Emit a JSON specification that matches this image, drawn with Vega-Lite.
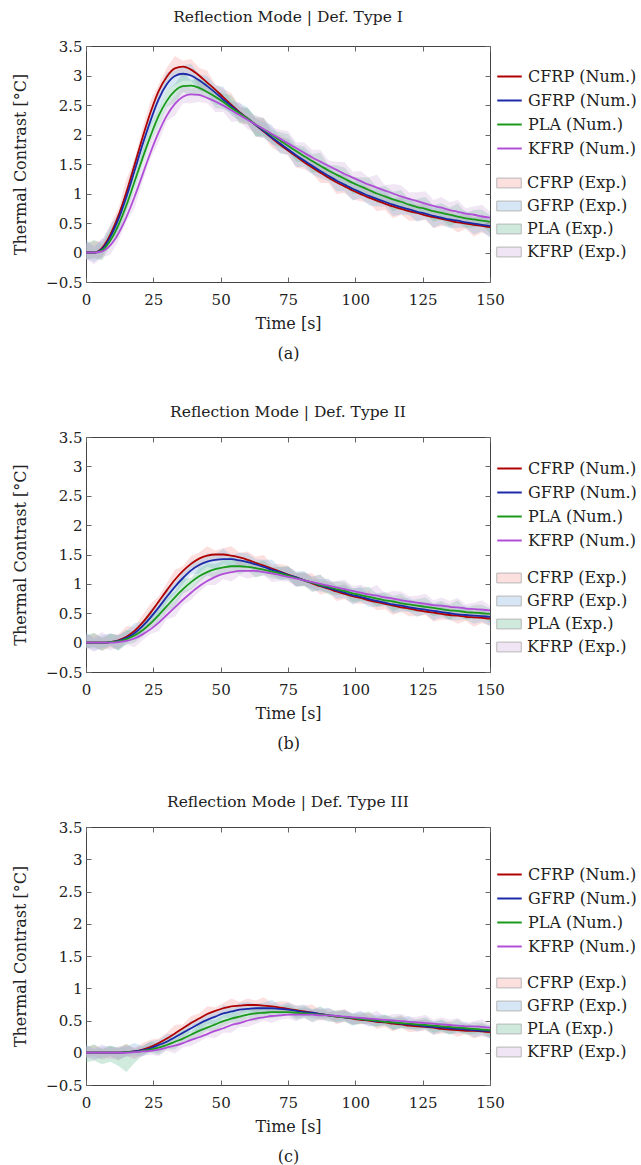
{
"$schema": "https://vega.github.io/schema/vega-lite/v6.json",
"padding": {"left": 12, "top": 9, "right": 0, "bottom": 0},
"background": "white",
"config": {
  "font": "DejaVu Serif",
  "view": {"stroke": "#444", "strokeWidth": 1},
  "axis": {"grid": false, "domain": false, "labelFontSize": 15, "titleFontSize": 16, "titleFontWeight": "normal", "labelColor": "#222", "titleColor": "#222", "tickColor": "#666", "labelFlush": false, "labelOverlap": false},
  "axisX": {"labelPadding": 15, "titlePadding": 8},
  "axisY": {"labelPadding": 9, "titlePadding": 17},
  "title": {"fontSize": 15.5, "fontWeight": "normal", "color": "#222"},
  "legend": {"labelFontSize": 16, "labelColor": "#222"}
},
"datasets": {"d": [
{"s":"I","m":"CFRP","t":0,"y":0,"lo":-0.12,"hi":0.14},
{"s":"I","m":"CFRP","t":3,"y":0,"lo":-0.09,"hi":0.2},
{"s":"I","m":"CFRP","t":6,"y":0.08,"lo":-0.1,"hi":0.18},
{"s":"I","m":"CFRP","t":9,"y":0.3,"lo":0.19,"hi":0.47},
{"s":"I","m":"CFRP","t":12,"y":0.62,"lo":0.42,"hi":0.74},
{"s":"I","m":"CFRP","t":15,"y":1.02,"lo":0.92,"hi":1.24},
{"s":"I","m":"CFRP","t":18,"y":1.48,"lo":1.32,"hi":1.57},
{"s":"I","m":"CFRP","t":21,"y":1.95,"lo":1.82,"hi":2.11},
{"s":"I","m":"CFRP","t":24,"y":2.38,"lo":2.3,"hi":2.57},
{"s":"I","m":"CFRP","t":27,"y":2.74,"lo":2.55,"hi":2.85},
{"s":"I","m":"CFRP","t":30,"y":2.98,"lo":2.86,"hi":3.13},
{"s":"I","m":"CFRP","t":33,"y":3.12,"lo":3.02,"hi":3.33},
{"s":"I","m":"CFRP","t":36,"y":3.15,"lo":2.98,"hi":3.25},
{"s":"I","m":"CFRP","t":39,"y":3.1,"lo":3.01,"hi":3.28},
{"s":"I","m":"CFRP","t":42,"y":3,"lo":2.8,"hi":3.13},
{"s":"I","m":"CFRP","t":45,"y":2.88,"lo":2.77,"hi":3.08},
{"s":"I","m":"CFRP","t":48,"y":2.76,"lo":2.61,"hi":2.85},
{"s":"I","m":"CFRP","t":51,"y":2.63,"lo":2.51,"hi":2.77},
{"s":"I","m":"CFRP","t":54,"y":2.5,"lo":2.41,"hi":2.7},
{"s":"I","m":"CFRP","t":57,"y":2.38,"lo":2.2,"hi":2.48},
{"s":"I","m":"CFRP","t":60,"y":2.27,"lo":2.16,"hi":2.44},
{"s":"I","m":"CFRP","t":63,"y":2.16,"lo":1.96,"hi":2.28},
{"s":"I","m":"CFRP","t":66,"y":2.05,"lo":1.95,"hi":2.27},
{"s":"I","m":"CFRP","t":69,"y":1.94,"lo":1.78,"hi":2.03},
{"s":"I","m":"CFRP","t":72,"y":1.83,"lo":1.7,"hi":1.99},
{"s":"I","m":"CFRP","t":75,"y":1.73,"lo":1.65,"hi":1.92},
{"s":"I","m":"CFRP","t":78,"y":1.63,"lo":1.44,"hi":1.74},
{"s":"I","m":"CFRP","t":81,"y":1.53,"lo":1.41,"hi":1.68},
{"s":"I","m":"CFRP","t":84,"y":1.44,"lo":1.34,"hi":1.65},
{"s":"I","m":"CFRP","t":87,"y":1.35,"lo":1.18,"hi":1.45},
{"s":"I","m":"CFRP","t":90,"y":1.27,"lo":1.18,"hi":1.45},
{"s":"I","m":"CFRP","t":93,"y":1.19,"lo":0.99,"hi":1.32},
{"s":"I","m":"CFRP","t":96,"y":1.12,"lo":1.01,"hi":1.32},
{"s":"I","m":"CFRP","t":99,"y":1.05,"lo":0.9,"hi":1.14},
{"s":"I","m":"CFRP","t":102,"y":0.99,"lo":0.87,"hi":1.13},
{"s":"I","m":"CFRP","t":105,"y":0.93,"lo":0.84,"hi":1.13},
{"s":"I","m":"CFRP","t":108,"y":0.88,"lo":0.7,"hi":0.98},
{"s":"I","m":"CFRP","t":111,"y":0.83,"lo":0.72,"hi":1},
{"s":"I","m":"CFRP","t":114,"y":0.78,"lo":0.58,"hi":0.9},
{"s":"I","m":"CFRP","t":117,"y":0.74,"lo":0.64,"hi":0.96},
{"s":"I","m":"CFRP","t":120,"y":0.7,"lo":0.54,"hi":0.79},
{"s":"I","m":"CFRP","t":123,"y":0.67,"lo":0.54,"hi":0.83},
{"s":"I","m":"CFRP","t":126,"y":0.63,"lo":0.55,"hi":0.82},
{"s":"I","m":"CFRP","t":129,"y":0.6,"lo":0.41,"hi":0.71},
{"s":"I","m":"CFRP","t":132,"y":0.57,"lo":0.45,"hi":0.72},
{"s":"I","m":"CFRP","t":135,"y":0.54,"lo":0.44,"hi":0.75},
{"s":"I","m":"CFRP","t":138,"y":0.51,"lo":0.34,"hi":0.61},
{"s":"I","m":"CFRP","t":141,"y":0.49,"lo":0.4,"hi":0.67},
{"s":"I","m":"CFRP","t":144,"y":0.47,"lo":0.27,"hi":0.6},
{"s":"I","m":"CFRP","t":147,"y":0.45,"lo":0.34,"hi":0.65},
{"s":"I","m":"CFRP","t":150,"y":0.43,"lo":0.28,"hi":0.52},
{"s":"I","m":"GFRP","t":0,"y":0,"lo":-0.1,"hi":0.22},
{"s":"I","m":"GFRP","t":3,"y":0,"lo":-0.16,"hi":0.09},
{"s":"I","m":"GFRP","t":6,"y":0.06,"lo":-0.07,"hi":0.22},
{"s":"I","m":"GFRP","t":9,"y":0.26,"lo":0.18,"hi":0.45},
{"s":"I","m":"GFRP","t":12,"y":0.56,"lo":0.37,"hi":0.67},
{"s":"I","m":"GFRP","t":15,"y":0.94,"lo":0.82,"hi":1.09},
{"s":"I","m":"GFRP","t":18,"y":1.38,"lo":1.28,"hi":1.59},
{"s":"I","m":"GFRP","t":21,"y":1.83,"lo":1.66,"hi":1.93},
{"s":"I","m":"GFRP","t":24,"y":2.24,"lo":2.15,"hi":2.42},
{"s":"I","m":"GFRP","t":27,"y":2.6,"lo":2.4,"hi":2.73},
{"s":"I","m":"GFRP","t":30,"y":2.85,"lo":2.74,"hi":3.05},
{"s":"I","m":"GFRP","t":33,"y":2.99,"lo":2.84,"hi":3.08},
{"s":"I","m":"GFRP","t":36,"y":3.03,"lo":2.91,"hi":3.17},
{"s":"I","m":"GFRP","t":39,"y":3,"lo":2.91,"hi":3.2},
{"s":"I","m":"GFRP","t":42,"y":2.92,"lo":2.74,"hi":3.02},
{"s":"I","m":"GFRP","t":45,"y":2.82,"lo":2.71,"hi":2.99},
{"s":"I","m":"GFRP","t":48,"y":2.71,"lo":2.51,"hi":2.83},
{"s":"I","m":"GFRP","t":51,"y":2.59,"lo":2.49,"hi":2.81},
{"s":"I","m":"GFRP","t":54,"y":2.48,"lo":2.32,"hi":2.57},
{"s":"I","m":"GFRP","t":57,"y":2.37,"lo":2.24,"hi":2.53},
{"s":"I","m":"GFRP","t":60,"y":2.27,"lo":2.19,"hi":2.46},
{"s":"I","m":"GFRP","t":63,"y":2.16,"lo":1.97,"hi":2.27},
{"s":"I","m":"GFRP","t":66,"y":2.06,"lo":1.94,"hi":2.21},
{"s":"I","m":"GFRP","t":69,"y":1.95,"lo":1.85,"hi":2.16},
{"s":"I","m":"GFRP","t":72,"y":1.85,"lo":1.68,"hi":1.95},
{"s":"I","m":"GFRP","t":75,"y":1.75,"lo":1.66,"hi":1.93},
{"s":"I","m":"GFRP","t":78,"y":1.65,"lo":1.45,"hi":1.78},
{"s":"I","m":"GFRP","t":81,"y":1.56,"lo":1.45,"hi":1.76},
{"s":"I","m":"GFRP","t":84,"y":1.47,"lo":1.32,"hi":1.56},
{"s":"I","m":"GFRP","t":87,"y":1.38,"lo":1.26,"hi":1.52},
{"s":"I","m":"GFRP","t":90,"y":1.3,"lo":1.21,"hi":1.5},
{"s":"I","m":"GFRP","t":93,"y":1.22,"lo":1.04,"hi":1.32},
{"s":"I","m":"GFRP","t":96,"y":1.15,"lo":1.04,"hi":1.32},
{"s":"I","m":"GFRP","t":99,"y":1.08,"lo":0.88,"hi":1.2},
{"s":"I","m":"GFRP","t":102,"y":1.02,"lo":0.92,"hi":1.24},
{"s":"I","m":"GFRP","t":105,"y":0.96,"lo":0.8,"hi":1.05},
{"s":"I","m":"GFRP","t":108,"y":0.91,"lo":0.78,"hi":1.07},
{"s":"I","m":"GFRP","t":111,"y":0.86,"lo":0.78,"hi":1.05},
{"s":"I","m":"GFRP","t":114,"y":0.81,"lo":0.62,"hi":0.92},
{"s":"I","m":"GFRP","t":117,"y":0.77,"lo":0.65,"hi":0.92},
{"s":"I","m":"GFRP","t":120,"y":0.73,"lo":0.63,"hi":0.94},
{"s":"I","m":"GFRP","t":123,"y":0.69,"lo":0.52,"hi":0.79},
{"s":"I","m":"GFRP","t":126,"y":0.66,"lo":0.57,"hi":0.84},
{"s":"I","m":"GFRP","t":129,"y":0.62,"lo":0.42,"hi":0.75},
{"s":"I","m":"GFRP","t":132,"y":0.59,"lo":0.48,"hi":0.79},
{"s":"I","m":"GFRP","t":135,"y":0.56,"lo":0.41,"hi":0.65},
{"s":"I","m":"GFRP","t":138,"y":0.54,"lo":0.42,"hi":0.68},
{"s":"I","m":"GFRP","t":141,"y":0.51,"lo":0.42,"hi":0.71},
{"s":"I","m":"GFRP","t":144,"y":0.49,"lo":0.31,"hi":0.59},
{"s":"I","m":"GFRP","t":147,"y":0.47,"lo":0.36,"hi":0.64},
{"s":"I","m":"GFRP","t":150,"y":0.45,"lo":0.25,"hi":0.57},
{"s":"I","m":"PLA","t":0,"y":0,"lo":-0.12,"hi":0.15},
{"s":"I","m":"PLA","t":3,"y":0,"lo":-0.1,"hi":0.21},
{"s":"I","m":"PLA","t":6,"y":0.04,"lo":-0.13,"hi":0.14},
{"s":"I","m":"PLA","t":9,"y":0.2,"lo":0.11,"hi":0.38},
{"s":"I","m":"PLA","t":12,"y":0.46,"lo":0.26,"hi":0.59},
{"s":"I","m":"PLA","t":15,"y":0.8,"lo":0.69,"hi":1},
{"s":"I","m":"PLA","t":18,"y":1.2,"lo":1.05,"hi":1.29},
{"s":"I","m":"PLA","t":21,"y":1.6,"lo":1.48,"hi":1.74},
{"s":"I","m":"PLA","t":24,"y":1.98,"lo":1.89,"hi":2.18},
{"s":"I","m":"PLA","t":27,"y":2.32,"lo":2.14,"hi":2.42},
{"s":"I","m":"PLA","t":30,"y":2.57,"lo":2.46,"hi":2.74},
{"s":"I","m":"PLA","t":33,"y":2.74,"lo":2.54,"hi":2.86},
{"s":"I","m":"PLA","t":36,"y":2.82,"lo":2.72,"hi":3.04},
{"s":"I","m":"PLA","t":39,"y":2.83,"lo":2.67,"hi":2.92},
{"s":"I","m":"PLA","t":42,"y":2.79,"lo":2.66,"hi":2.95},
{"s":"I","m":"PLA","t":45,"y":2.72,"lo":2.64,"hi":2.91},
{"s":"I","m":"PLA","t":48,"y":2.64,"lo":2.45,"hi":2.75},
{"s":"I","m":"PLA","t":51,"y":2.55,"lo":2.43,"hi":2.7},
{"s":"I","m":"PLA","t":54,"y":2.45,"lo":2.35,"hi":2.66},
{"s":"I","m":"PLA","t":57,"y":2.36,"lo":2.19,"hi":2.46},
{"s":"I","m":"PLA","t":60,"y":2.27,"lo":2.18,"hi":2.45},
{"s":"I","m":"PLA","t":63,"y":2.17,"lo":1.97,"hi":2.3},
{"s":"I","m":"PLA","t":66,"y":2.08,"lo":1.97,"hi":2.28},
{"s":"I","m":"PLA","t":69,"y":1.99,"lo":1.84,"hi":2.08},
{"s":"I","m":"PLA","t":72,"y":1.9,"lo":1.78,"hi":2.04},
{"s":"I","m":"PLA","t":75,"y":1.81,"lo":1.72,"hi":2.01},
{"s":"I","m":"PLA","t":78,"y":1.72,"lo":1.54,"hi":1.82},
{"s":"I","m":"PLA","t":81,"y":1.63,"lo":1.52,"hi":1.8},
{"s":"I","m":"PLA","t":84,"y":1.55,"lo":1.35,"hi":1.67},
{"s":"I","m":"PLA","t":87,"y":1.47,"lo":1.37,"hi":1.69},
{"s":"I","m":"PLA","t":90,"y":1.39,"lo":1.23,"hi":1.48},
{"s":"I","m":"PLA","t":93,"y":1.32,"lo":1.19,"hi":1.48},
{"s":"I","m":"PLA","t":96,"y":1.25,"lo":1.17,"hi":1.44},
{"s":"I","m":"PLA","t":99,"y":1.18,"lo":0.99,"hi":1.29},
{"s":"I","m":"PLA","t":102,"y":1.12,"lo":1,"hi":1.27},
{"s":"I","m":"PLA","t":105,"y":1.06,"lo":0.96,"hi":1.27},
{"s":"I","m":"PLA","t":108,"y":1,"lo":0.83,"hi":1.1},
{"s":"I","m":"PLA","t":111,"y":0.95,"lo":0.86,"hi":1.13},
{"s":"I","m":"PLA","t":114,"y":0.9,"lo":0.7,"hi":1.03},
{"s":"I","m":"PLA","t":117,"y":0.86,"lo":0.75,"hi":1.06},
{"s":"I","m":"PLA","t":120,"y":0.81,"lo":0.66,"hi":0.9},
{"s":"I","m":"PLA","t":123,"y":0.77,"lo":0.65,"hi":0.91},
{"s":"I","m":"PLA","t":126,"y":0.74,"lo":0.65,"hi":0.94},
{"s":"I","m":"PLA","t":129,"y":0.7,"lo":0.52,"hi":0.8},
{"s":"I","m":"PLA","t":132,"y":0.67,"lo":0.56,"hi":0.84},
{"s":"I","m":"PLA","t":135,"y":0.64,"lo":0.44,"hi":0.76},
{"s":"I","m":"PLA","t":138,"y":0.61,"lo":0.51,"hi":0.83},
{"s":"I","m":"PLA","t":141,"y":0.58,"lo":0.42,"hi":0.67},
{"s":"I","m":"PLA","t":144,"y":0.56,"lo":0.43,"hi":0.72},
{"s":"I","m":"PLA","t":147,"y":0.54,"lo":0.46,"hi":0.73},
{"s":"I","m":"PLA","t":150,"y":0.52,"lo":0.33,"hi":0.63},
{"s":"I","m":"KFRP","t":0,"y":0,"lo":-0.11,"hi":0.17},
{"s":"I","m":"KFRP","t":3,"y":0,"lo":-0.2,"hi":0.12},
{"s":"I","m":"KFRP","t":6,"y":0.02,"lo":-0.08,"hi":0.24},
{"s":"I","m":"KFRP","t":9,"y":0.12,"lo":-0.04,"hi":0.21},
{"s":"I","m":"KFRP","t":12,"y":0.32,"lo":0.19,"hi":0.48},
{"s":"I","m":"KFRP","t":15,"y":0.6,"lo":0.52,"hi":0.79},
{"s":"I","m":"KFRP","t":18,"y":0.94,"lo":0.75,"hi":1.05},
{"s":"I","m":"KFRP","t":21,"y":1.32,"lo":1.2,"hi":1.47},
{"s":"I","m":"KFRP","t":24,"y":1.7,"lo":1.6,"hi":1.91},
{"s":"I","m":"KFRP","t":27,"y":2.04,"lo":1.87,"hi":2.14},
{"s":"I","m":"KFRP","t":30,"y":2.32,"lo":2.23,"hi":2.5},
{"s":"I","m":"KFRP","t":33,"y":2.52,"lo":2.32,"hi":2.65},
{"s":"I","m":"KFRP","t":36,"y":2.64,"lo":2.53,"hi":2.84},
{"s":"I","m":"KFRP","t":39,"y":2.68,"lo":2.53,"hi":2.77},
{"s":"I","m":"KFRP","t":42,"y":2.67,"lo":2.55,"hi":2.81},
{"s":"I","m":"KFRP","t":45,"y":2.62,"lo":2.53,"hi":2.82},
{"s":"I","m":"KFRP","t":48,"y":2.56,"lo":2.38,"hi":2.66},
{"s":"I","m":"KFRP","t":51,"y":2.49,"lo":2.38,"hi":2.66},
{"s":"I","m":"KFRP","t":54,"y":2.41,"lo":2.21,"hi":2.53},
{"s":"I","m":"KFRP","t":57,"y":2.33,"lo":2.23,"hi":2.55},
{"s":"I","m":"KFRP","t":60,"y":2.25,"lo":2.09,"hi":2.34},
{"s":"I","m":"KFRP","t":63,"y":2.17,"lo":2.04,"hi":2.33},
{"s":"I","m":"KFRP","t":66,"y":2.09,"lo":2.01,"hi":2.28},
{"s":"I","m":"KFRP","t":69,"y":2.01,"lo":1.82,"hi":2.12},
{"s":"I","m":"KFRP","t":72,"y":1.93,"lo":1.81,"hi":2.08},
{"s":"I","m":"KFRP","t":75,"y":1.85,"lo":1.75,"hi":2.06},
{"s":"I","m":"KFRP","t":78,"y":1.77,"lo":1.6,"hi":1.87},
{"s":"I","m":"KFRP","t":81,"y":1.69,"lo":1.6,"hi":1.87},
{"s":"I","m":"KFRP","t":84,"y":1.61,"lo":1.41,"hi":1.74},
{"s":"I","m":"KFRP","t":87,"y":1.54,"lo":1.43,"hi":1.74},
{"s":"I","m":"KFRP","t":90,"y":1.47,"lo":1.32,"hi":1.56},
{"s":"I","m":"KFRP","t":93,"y":1.4,"lo":1.28,"hi":1.54},
{"s":"I","m":"KFRP","t":96,"y":1.33,"lo":1.24,"hi":1.53},
{"s":"I","m":"KFRP","t":99,"y":1.27,"lo":1.09,"hi":1.37},
{"s":"I","m":"KFRP","t":102,"y":1.21,"lo":1.1,"hi":1.38},
{"s":"I","m":"KFRP","t":105,"y":1.15,"lo":0.95,"hi":1.27},
{"s":"I","m":"KFRP","t":108,"y":1.1,"lo":1,"hi":1.32},
{"s":"I","m":"KFRP","t":111,"y":1.05,"lo":0.89,"hi":1.14},
{"s":"I","m":"KFRP","t":114,"y":1,"lo":0.87,"hi":1.16},
{"s":"I","m":"KFRP","t":117,"y":0.95,"lo":0.87,"hi":1.14},
{"s":"I","m":"KFRP","t":120,"y":0.91,"lo":0.72,"hi":1.02},
{"s":"I","m":"KFRP","t":123,"y":0.87,"lo":0.75,"hi":1.02},
{"s":"I","m":"KFRP","t":126,"y":0.83,"lo":0.73,"hi":1.04},
{"s":"I","m":"KFRP","t":129,"y":0.79,"lo":0.62,"hi":0.89},
{"s":"I","m":"KFRP","t":132,"y":0.76,"lo":0.67,"hi":0.94},
{"s":"I","m":"KFRP","t":135,"y":0.72,"lo":0.52,"hi":0.85},
{"s":"I","m":"KFRP","t":138,"y":0.69,"lo":0.58,"hi":0.89},
{"s":"I","m":"KFRP","t":141,"y":0.66,"lo":0.51,"hi":0.75},
{"s":"I","m":"KFRP","t":144,"y":0.64,"lo":0.52,"hi":0.78},
{"s":"I","m":"KFRP","t":147,"y":0.61,"lo":0.52,"hi":0.81},
{"s":"I","m":"KFRP","t":150,"y":0.59,"lo":0.41,"hi":0.69},
{"s":"II","m":"CFRP","t":0,"y":0,"lo":-0.1,"hi":0.11},
{"s":"II","m":"CFRP","t":3,"y":0,"lo":-0.07,"hi":0.16},
{"s":"II","m":"CFRP","t":6,"y":0,"lo":-0.14,"hi":0.08},
{"s":"II","m":"CFRP","t":9,"y":0.01,"lo":-0.08,"hi":0.15},
{"s":"II","m":"CFRP","t":12,"y":0.04,"lo":-0.12,"hi":0.14},
{"s":"II","m":"CFRP","t":15,"y":0.1,"lo":0.02,"hi":0.28},
{"s":"II","m":"CFRP","t":18,"y":0.2,"lo":0.07,"hi":0.27},
{"s":"II","m":"CFRP","t":21,"y":0.34,"lo":0.24,"hi":0.47},
{"s":"II","m":"CFRP","t":24,"y":0.51,"lo":0.45,"hi":0.66},
{"s":"II","m":"CFRP","t":27,"y":0.7,"lo":0.55,"hi":0.79},
{"s":"II","m":"CFRP","t":30,"y":0.89,"lo":0.79,"hi":1.01},
{"s":"II","m":"CFRP","t":33,"y":1.07,"lo":0.99,"hi":1.24},
{"s":"II","m":"CFRP","t":36,"y":1.22,"lo":1.08,"hi":1.3},
{"s":"II","m":"CFRP","t":39,"y":1.34,"lo":1.27,"hi":1.48},
{"s":"II","m":"CFRP","t":42,"y":1.43,"lo":1.27,"hi":1.53},
{"s":"II","m":"CFRP","t":45,"y":1.48,"lo":1.39,"hi":1.64},
{"s":"II","m":"CFRP","t":48,"y":1.5,"lo":1.38,"hi":1.57},
{"s":"II","m":"CFRP","t":51,"y":1.5,"lo":1.4,"hi":1.61},
{"s":"II","m":"CFRP","t":54,"y":1.48,"lo":1.41,"hi":1.64},
{"s":"II","m":"CFRP","t":57,"y":1.45,"lo":1.31,"hi":1.53},
{"s":"II","m":"CFRP","t":60,"y":1.41,"lo":1.32,"hi":1.55},
{"s":"II","m":"CFRP","t":63,"y":1.36,"lo":1.2,"hi":1.46},
{"s":"II","m":"CFRP","t":66,"y":1.31,"lo":1.23,"hi":1.49},
{"s":"II","m":"CFRP","t":69,"y":1.26,"lo":1.13,"hi":1.33},
{"s":"II","m":"CFRP","t":72,"y":1.21,"lo":1.11,"hi":1.34},
{"s":"II","m":"CFRP","t":75,"y":1.16,"lo":1.1,"hi":1.31},
{"s":"II","m":"CFRP","t":78,"y":1.11,"lo":0.96,"hi":1.2},
{"s":"II","m":"CFRP","t":81,"y":1.06,"lo":0.96,"hi":1.18},
{"s":"II","m":"CFRP","t":84,"y":1.01,"lo":0.93,"hi":1.18},
{"s":"II","m":"CFRP","t":87,"y":0.96,"lo":0.82,"hi":1.04},
{"s":"II","m":"CFRP","t":90,"y":0.92,"lo":0.85,"hi":1.06},
{"s":"II","m":"CFRP","t":93,"y":0.87,"lo":0.71,"hi":0.97},
{"s":"II","m":"CFRP","t":96,"y":0.83,"lo":0.74,"hi":0.99},
{"s":"II","m":"CFRP","t":99,"y":0.79,"lo":0.67,"hi":0.86},
{"s":"II","m":"CFRP","t":102,"y":0.76,"lo":0.66,"hi":0.87},
{"s":"II","m":"CFRP","t":105,"y":0.72,"lo":0.65,"hi":0.88},
{"s":"II","m":"CFRP","t":108,"y":0.69,"lo":0.55,"hi":0.77},
{"s":"II","m":"CFRP","t":111,"y":0.66,"lo":0.57,"hi":0.8},
{"s":"II","m":"CFRP","t":114,"y":0.63,"lo":0.47,"hi":0.73},
{"s":"II","m":"CFRP","t":117,"y":0.6,"lo":0.52,"hi":0.78},
{"s":"II","m":"CFRP","t":120,"y":0.58,"lo":0.45,"hi":0.65},
{"s":"II","m":"CFRP","t":123,"y":0.55,"lo":0.45,"hi":0.68},
{"s":"II","m":"CFRP","t":126,"y":0.53,"lo":0.47,"hi":0.68},
{"s":"II","m":"CFRP","t":129,"y":0.51,"lo":0.36,"hi":0.6},
{"s":"II","m":"CFRP","t":132,"y":0.49,"lo":0.39,"hi":0.61},
{"s":"II","m":"CFRP","t":135,"y":0.47,"lo":0.39,"hi":0.64},
{"s":"II","m":"CFRP","t":138,"y":0.46,"lo":0.32,"hi":0.54},
{"s":"II","m":"CFRP","t":141,"y":0.44,"lo":0.37,"hi":0.58},
{"s":"II","m":"CFRP","t":144,"y":0.43,"lo":0.27,"hi":0.53},
{"s":"II","m":"CFRP","t":147,"y":0.42,"lo":0.33,"hi":0.58},
{"s":"II","m":"CFRP","t":150,"y":0.41,"lo":0.29,"hi":0.48},
{"s":"II","m":"GFRP","t":0,"y":0,"lo":-0.08,"hi":0.18},
{"s":"II","m":"GFRP","t":3,"y":0,"lo":-0.13,"hi":0.07},
{"s":"II","m":"GFRP","t":6,"y":0,"lo":-0.1,"hi":0.13},
{"s":"II","m":"GFRP","t":9,"y":0.01,"lo":-0.05,"hi":0.16},
{"s":"II","m":"GFRP","t":12,"y":0.03,"lo":-0.12,"hi":0.12},
{"s":"II","m":"GFRP","t":15,"y":0.08,"lo":-0.02,"hi":0.2},
{"s":"II","m":"GFRP","t":18,"y":0.16,"lo":0.08,"hi":0.33},
{"s":"II","m":"GFRP","t":21,"y":0.28,"lo":0.14,"hi":0.36},
{"s":"II","m":"GFRP","t":24,"y":0.43,"lo":0.36,"hi":0.57},
{"s":"II","m":"GFRP","t":27,"y":0.6,"lo":0.44,"hi":0.7},
{"s":"II","m":"GFRP","t":30,"y":0.78,"lo":0.69,"hi":0.94},
{"s":"II","m":"GFRP","t":33,"y":0.95,"lo":0.83,"hi":1.02},
{"s":"II","m":"GFRP","t":36,"y":1.1,"lo":1,"hi":1.21},
{"s":"II","m":"GFRP","t":39,"y":1.23,"lo":1.16,"hi":1.39},
{"s":"II","m":"GFRP","t":42,"y":1.32,"lo":1.18,"hi":1.4},
{"s":"II","m":"GFRP","t":45,"y":1.38,"lo":1.29,"hi":1.52},
{"s":"II","m":"GFRP","t":48,"y":1.41,"lo":1.25,"hi":1.51},
{"s":"II","m":"GFRP","t":51,"y":1.42,"lo":1.34,"hi":1.6},
{"s":"II","m":"GFRP","t":54,"y":1.42,"lo":1.29,"hi":1.49},
{"s":"II","m":"GFRP","t":57,"y":1.4,"lo":1.3,"hi":1.53},
{"s":"II","m":"GFRP","t":60,"y":1.37,"lo":1.31,"hi":1.52},
{"s":"II","m":"GFRP","t":63,"y":1.33,"lo":1.18,"hi":1.42},
{"s":"II","m":"GFRP","t":66,"y":1.29,"lo":1.19,"hi":1.41},
{"s":"II","m":"GFRP","t":69,"y":1.24,"lo":1.16,"hi":1.41},
{"s":"II","m":"GFRP","t":72,"y":1.2,"lo":1.06,"hi":1.28},
{"s":"II","m":"GFRP","t":75,"y":1.15,"lo":1.08,"hi":1.29},
{"s":"II","m":"GFRP","t":78,"y":1.11,"lo":0.95,"hi":1.21},
{"s":"II","m":"GFRP","t":81,"y":1.06,"lo":0.97,"hi":1.22},
{"s":"II","m":"GFRP","t":84,"y":1.02,"lo":0.9,"hi":1.09},
{"s":"II","m":"GFRP","t":87,"y":0.97,"lo":0.87,"hi":1.08},
{"s":"II","m":"GFRP","t":90,"y":0.93,"lo":0.86,"hi":1.09},
{"s":"II","m":"GFRP","t":93,"y":0.89,"lo":0.75,"hi":0.97},
{"s":"II","m":"GFRP","t":96,"y":0.85,"lo":0.76,"hi":0.99},
{"s":"II","m":"GFRP","t":99,"y":0.81,"lo":0.65,"hi":0.91},
{"s":"II","m":"GFRP","t":102,"y":0.78,"lo":0.7,"hi":0.96},
{"s":"II","m":"GFRP","t":105,"y":0.74,"lo":0.61,"hi":0.81},
{"s":"II","m":"GFRP","t":108,"y":0.71,"lo":0.61,"hi":0.84},
{"s":"II","m":"GFRP","t":111,"y":0.68,"lo":0.62,"hi":0.83},
{"s":"II","m":"GFRP","t":114,"y":0.65,"lo":0.5,"hi":0.74},
{"s":"II","m":"GFRP","t":117,"y":0.63,"lo":0.53,"hi":0.75},
{"s":"II","m":"GFRP","t":120,"y":0.6,"lo":0.52,"hi":0.77},
{"s":"II","m":"GFRP","t":123,"y":0.58,"lo":0.44,"hi":0.66},
{"s":"II","m":"GFRP","t":126,"y":0.56,"lo":0.49,"hi":0.7},
{"s":"II","m":"GFRP","t":129,"y":0.54,"lo":0.38,"hi":0.64},
{"s":"II","m":"GFRP","t":132,"y":0.52,"lo":0.43,"hi":0.68},
{"s":"II","m":"GFRP","t":135,"y":0.5,"lo":0.38,"hi":0.57},
{"s":"II","m":"GFRP","t":138,"y":0.48,"lo":0.38,"hi":0.59},
{"s":"II","m":"GFRP","t":141,"y":0.47,"lo":0.4,"hi":0.63},
{"s":"II","m":"GFRP","t":144,"y":0.46,"lo":0.32,"hi":0.54},
{"s":"II","m":"GFRP","t":147,"y":0.45,"lo":0.36,"hi":0.59},
{"s":"II","m":"GFRP","t":150,"y":0.44,"lo":0.28,"hi":0.54},
{"s":"II","m":"PLA","t":0,"y":0,"lo":-0.1,"hi":0.12},
{"s":"II","m":"PLA","t":3,"y":0,"lo":-0.08,"hi":0.17},
{"s":"II","m":"PLA","t":6,"y":0,"lo":-0.14,"hi":0.08},
{"s":"II","m":"PLA","t":9,"y":0.01,"lo":-0.06,"hi":0.15},
{"s":"II","m":"PLA","t":12,"y":0.02,"lo":-0.14,"hi":0.12},
{"s":"II","m":"PLA","t":15,"y":0.06,"lo":-0.03,"hi":0.22},
{"s":"II","m":"PLA","t":18,"y":0.12,"lo":0,"hi":0.19},
{"s":"II","m":"PLA","t":21,"y":0.21,"lo":0.11,"hi":0.32},
{"s":"II","m":"PLA","t":24,"y":0.33,"lo":0.26,"hi":0.49},
{"s":"II","m":"PLA","t":27,"y":0.47,"lo":0.33,"hi":0.55},
{"s":"II","m":"PLA","t":30,"y":0.62,"lo":0.53,"hi":0.76},
{"s":"II","m":"PLA","t":33,"y":0.77,"lo":0.61,"hi":0.87},
{"s":"II","m":"PLA","t":36,"y":0.91,"lo":0.83,"hi":1.09},
{"s":"II","m":"PLA","t":39,"y":1.03,"lo":0.9,"hi":1.1},
{"s":"II","m":"PLA","t":42,"y":1.13,"lo":1.03,"hi":1.26},
{"s":"II","m":"PLA","t":45,"y":1.2,"lo":1.14,"hi":1.35},
{"s":"II","m":"PLA","t":48,"y":1.25,"lo":1.1,"hi":1.34},
{"s":"II","m":"PLA","t":51,"y":1.28,"lo":1.18,"hi":1.4},
{"s":"II","m":"PLA","t":54,"y":1.3,"lo":1.22,"hi":1.47},
{"s":"II","m":"PLA","t":57,"y":1.3,"lo":1.16,"hi":1.38},
{"s":"II","m":"PLA","t":60,"y":1.29,"lo":1.22,"hi":1.43},
{"s":"II","m":"PLA","t":63,"y":1.27,"lo":1.11,"hi":1.37},
{"s":"II","m":"PLA","t":66,"y":1.24,"lo":1.15,"hi":1.4},
{"s":"II","m":"PLA","t":69,"y":1.21,"lo":1.09,"hi":1.28},
{"s":"II","m":"PLA","t":72,"y":1.18,"lo":1.08,"hi":1.29},
{"s":"II","m":"PLA","t":75,"y":1.14,"lo":1.07,"hi":1.3},
{"s":"II","m":"PLA","t":78,"y":1.1,"lo":0.96,"hi":1.18},
{"s":"II","m":"PLA","t":81,"y":1.06,"lo":0.97,"hi":1.2},
{"s":"II","m":"PLA","t":84,"y":1.02,"lo":0.86,"hi":1.12},
{"s":"II","m":"PLA","t":87,"y":0.98,"lo":0.9,"hi":1.16},
{"s":"II","m":"PLA","t":90,"y":0.95,"lo":0.82,"hi":1.02},
{"s":"II","m":"PLA","t":93,"y":0.91,"lo":0.81,"hi":1.04},
{"s":"II","m":"PLA","t":96,"y":0.88,"lo":0.82,"hi":1.03},
{"s":"II","m":"PLA","t":99,"y":0.84,"lo":0.69,"hi":0.93},
{"s":"II","m":"PLA","t":102,"y":0.81,"lo":0.71,"hi":0.93},
{"s":"II","m":"PLA","t":105,"y":0.78,"lo":0.7,"hi":0.95},
{"s":"II","m":"PLA","t":108,"y":0.75,"lo":0.61,"hi":0.83},
{"s":"II","m":"PLA","t":111,"y":0.72,"lo":0.65,"hi":0.86},
{"s":"II","m":"PLA","t":114,"y":0.7,"lo":0.54,"hi":0.8},
{"s":"II","m":"PLA","t":117,"y":0.67,"lo":0.58,"hi":0.83},
{"s":"II","m":"PLA","t":120,"y":0.65,"lo":0.53,"hi":0.72},
{"s":"II","m":"PLA","t":123,"y":0.63,"lo":0.53,"hi":0.74},
{"s":"II","m":"PLA","t":126,"y":0.61,"lo":0.54,"hi":0.77},
{"s":"II","m":"PLA","t":129,"y":0.59,"lo":0.45,"hi":0.67},
{"s":"II","m":"PLA","t":132,"y":0.57,"lo":0.48,"hi":0.71},
{"s":"II","m":"PLA","t":135,"y":0.55,"lo":0.39,"hi":0.65},
{"s":"II","m":"PLA","t":138,"y":0.54,"lo":0.46,"hi":0.72},
{"s":"II","m":"PLA","t":141,"y":0.52,"lo":0.39,"hi":0.59},
{"s":"II","m":"PLA","t":144,"y":0.51,"lo":0.41,"hi":0.64},
{"s":"II","m":"PLA","t":147,"y":0.5,"lo":0.44,"hi":0.65},
{"s":"II","m":"PLA","t":150,"y":0.49,"lo":0.34,"hi":0.58},
{"s":"II","m":"KFRP","t":0,"y":0,"lo":-0.09,"hi":0.14},
{"s":"II","m":"KFRP","t":3,"y":0,"lo":-0.16,"hi":0.1},
{"s":"II","m":"KFRP","t":6,"y":0,"lo":-0.08,"hi":0.18},
{"s":"II","m":"KFRP","t":9,"y":0,"lo":-0.13,"hi":0.07},
{"s":"II","m":"KFRP","t":12,"y":0.01,"lo":-0.09,"hi":0.14},
{"s":"II","m":"KFRP","t":15,"y":0.03,"lo":-0.03,"hi":0.18},
{"s":"II","m":"KFRP","t":18,"y":0.07,"lo":-0.08,"hi":0.16},
{"s":"II","m":"KFRP","t":21,"y":0.14,"lo":0.04,"hi":0.26},
{"s":"II","m":"KFRP","t":24,"y":0.23,"lo":0.15,"hi":0.4},
{"s":"II","m":"KFRP","t":27,"y":0.34,"lo":0.2,"hi":0.42},
{"s":"II","m":"KFRP","t":30,"y":0.47,"lo":0.4,"hi":0.61},
{"s":"II","m":"KFRP","t":33,"y":0.6,"lo":0.44,"hi":0.7},
{"s":"II","m":"KFRP","t":36,"y":0.73,"lo":0.64,"hi":0.89},
{"s":"II","m":"KFRP","t":39,"y":0.85,"lo":0.73,"hi":0.92},
{"s":"II","m":"KFRP","t":42,"y":0.96,"lo":0.86,"hi":1.07},
{"s":"II","m":"KFRP","t":45,"y":1.05,"lo":0.98,"hi":1.21},
{"s":"II","m":"KFRP","t":48,"y":1.12,"lo":0.98,"hi":1.2},
{"s":"II","m":"KFRP","t":51,"y":1.17,"lo":1.08,"hi":1.31},
{"s":"II","m":"KFRP","t":54,"y":1.2,"lo":1.04,"hi":1.3},
{"s":"II","m":"KFRP","t":57,"y":1.22,"lo":1.14,"hi":1.4},
{"s":"II","m":"KFRP","t":60,"y":1.22,"lo":1.09,"hi":1.29},
{"s":"II","m":"KFRP","t":63,"y":1.22,"lo":1.12,"hi":1.35},
{"s":"II","m":"KFRP","t":66,"y":1.2,"lo":1.14,"hi":1.35},
{"s":"II","m":"KFRP","t":69,"y":1.18,"lo":1.03,"hi":1.27},
{"s":"II","m":"KFRP","t":72,"y":1.15,"lo":1.05,"hi":1.27},
{"s":"II","m":"KFRP","t":75,"y":1.12,"lo":1.04,"hi":1.29},
{"s":"II","m":"KFRP","t":78,"y":1.09,"lo":0.95,"hi":1.17},
{"s":"II","m":"KFRP","t":81,"y":1.06,"lo":0.99,"hi":1.2},
{"s":"II","m":"KFRP","t":84,"y":1.03,"lo":0.87,"hi":1.13},
{"s":"II","m":"KFRP","t":87,"y":1,"lo":0.91,"hi":1.16},
{"s":"II","m":"KFRP","t":90,"y":0.97,"lo":0.85,"hi":1.04},
{"s":"II","m":"KFRP","t":93,"y":0.94,"lo":0.84,"hi":1.05},
{"s":"II","m":"KFRP","t":96,"y":0.91,"lo":0.84,"hi":1.07},
{"s":"II","m":"KFRP","t":99,"y":0.88,"lo":0.74,"hi":0.96},
{"s":"II","m":"KFRP","t":102,"y":0.85,"lo":0.76,"hi":0.99},
{"s":"II","m":"KFRP","t":105,"y":0.82,"lo":0.66,"hi":0.92},
{"s":"II","m":"KFRP","t":108,"y":0.8,"lo":0.72,"hi":0.98},
{"s":"II","m":"KFRP","t":111,"y":0.77,"lo":0.64,"hi":0.84},
{"s":"II","m":"KFRP","t":114,"y":0.75,"lo":0.65,"hi":0.88},
{"s":"II","m":"KFRP","t":117,"y":0.72,"lo":0.66,"hi":0.87},
{"s":"II","m":"KFRP","t":120,"y":0.7,"lo":0.55,"hi":0.79},
{"s":"II","m":"KFRP","t":123,"y":0.68,"lo":0.58,"hi":0.8},
{"s":"II","m":"KFRP","t":126,"y":0.66,"lo":0.58,"hi":0.83},
{"s":"II","m":"KFRP","t":129,"y":0.64,"lo":0.5,"hi":0.72},
{"s":"II","m":"KFRP","t":132,"y":0.63,"lo":0.56,"hi":0.77},
{"s":"II","m":"KFRP","t":135,"y":0.61,"lo":0.45,"hi":0.71},
{"s":"II","m":"KFRP","t":138,"y":0.6,"lo":0.51,"hi":0.76},
{"s":"II","m":"KFRP","t":141,"y":0.58,"lo":0.46,"hi":0.65},
{"s":"II","m":"KFRP","t":144,"y":0.57,"lo":0.47,"hi":0.68},
{"s":"II","m":"KFRP","t":147,"y":0.56,"lo":0.49,"hi":0.72},
{"s":"II","m":"KFRP","t":150,"y":0.55,"lo":0.41,"hi":0.63},
{"s":"III","m":"CFRP","t":0,"y":0,"lo":-0.07,"hi":0.08},
{"s":"III","m":"CFRP","t":3,"y":0,"lo":-0.05,"hi":0.12},
{"s":"III","m":"CFRP","t":6,"y":0,"lo":-0.11,"hi":0.06},
{"s":"III","m":"CFRP","t":9,"y":0,"lo":-0.07,"hi":0.1},
{"s":"III","m":"CFRP","t":12,"y":0,"lo":-0.12,"hi":0.07},
{"s":"III","m":"CFRP","t":15,"y":0.01,"lo":-0.05,"hi":0.14},
{"s":"III","m":"CFRP","t":18,"y":0.02,"lo":-0.08,"hi":0.07},
{"s":"III","m":"CFRP","t":21,"y":0.05,"lo":-0.03,"hi":0.15},
{"s":"III","m":"CFRP","t":24,"y":0.09,"lo":0.04,"hi":0.2},
{"s":"III","m":"CFRP","t":27,"y":0.15,"lo":0.04,"hi":0.22},
{"s":"III","m":"CFRP","t":30,"y":0.22,"lo":0.15,"hi":0.31},
{"s":"III","m":"CFRP","t":33,"y":0.3,"lo":0.24,"hi":0.43},
{"s":"III","m":"CFRP","t":36,"y":0.38,"lo":0.28,"hi":0.44},
{"s":"III","m":"CFRP","t":39,"y":0.46,"lo":0.41,"hi":0.57},
{"s":"III","m":"CFRP","t":42,"y":0.53,"lo":0.41,"hi":0.61},
{"s":"III","m":"CFRP","t":45,"y":0.6,"lo":0.53,"hi":0.72},
{"s":"III","m":"CFRP","t":48,"y":0.65,"lo":0.56,"hi":0.7},
{"s":"III","m":"CFRP","t":51,"y":0.69,"lo":0.62,"hi":0.77},
{"s":"III","m":"CFRP","t":54,"y":0.72,"lo":0.67,"hi":0.84},
{"s":"III","m":"CFRP","t":57,"y":0.73,"lo":0.62,"hi":0.79},
{"s":"III","m":"CFRP","t":60,"y":0.74,"lo":0.67,"hi":0.84},
{"s":"III","m":"CFRP","t":63,"y":0.74,"lo":0.62,"hi":0.81},
{"s":"III","m":"CFRP","t":66,"y":0.73,"lo":0.67,"hi":0.86},
{"s":"III","m":"CFRP","t":69,"y":0.72,"lo":0.62,"hi":0.77},
{"s":"III","m":"CFRP","t":72,"y":0.7,"lo":0.62,"hi":0.8},
{"s":"III","m":"CFRP","t":75,"y":0.68,"lo":0.63,"hi":0.79},
{"s":"III","m":"CFRP","t":78,"y":0.66,"lo":0.55,"hi":0.73},
{"s":"III","m":"CFRP","t":81,"y":0.64,"lo":0.57,"hi":0.73},
{"s":"III","m":"CFRP","t":84,"y":0.62,"lo":0.56,"hi":0.75},
{"s":"III","m":"CFRP","t":87,"y":0.6,"lo":0.5,"hi":0.66},
{"s":"III","m":"CFRP","t":90,"y":0.58,"lo":0.53,"hi":0.69},
{"s":"III","m":"CFRP","t":93,"y":0.56,"lo":0.44,"hi":0.64},
{"s":"III","m":"CFRP","t":96,"y":0.55,"lo":0.48,"hi":0.67},
{"s":"III","m":"CFRP","t":99,"y":0.53,"lo":0.44,"hi":0.58},
{"s":"III","m":"CFRP","t":102,"y":0.51,"lo":0.44,"hi":0.59},
{"s":"III","m":"CFRP","t":105,"y":0.5,"lo":0.45,"hi":0.62},
{"s":"III","m":"CFRP","t":108,"y":0.48,"lo":0.37,"hi":0.54},
{"s":"III","m":"CFRP","t":111,"y":0.47,"lo":0.4,"hi":0.57},
{"s":"III","m":"CFRP","t":114,"y":0.45,"lo":0.33,"hi":0.52},
{"s":"III","m":"CFRP","t":117,"y":0.44,"lo":0.38,"hi":0.57},
{"s":"III","m":"CFRP","t":120,"y":0.42,"lo":0.32,"hi":0.47},
{"s":"III","m":"CFRP","t":123,"y":0.41,"lo":0.33,"hi":0.51},
{"s":"III","m":"CFRP","t":126,"y":0.4,"lo":0.35,"hi":0.51},
{"s":"III","m":"CFRP","t":129,"y":0.39,"lo":0.28,"hi":0.46},
{"s":"III","m":"CFRP","t":132,"y":0.37,"lo":0.3,"hi":0.46},
{"s":"III","m":"CFRP","t":135,"y":0.36,"lo":0.3,"hi":0.49},
{"s":"III","m":"CFRP","t":138,"y":0.35,"lo":0.25,"hi":0.41},
{"s":"III","m":"CFRP","t":141,"y":0.34,"lo":0.29,"hi":0.45},
{"s":"III","m":"CFRP","t":144,"y":0.34,"lo":0.22,"hi":0.42},
{"s":"III","m":"CFRP","t":147,"y":0.33,"lo":0.26,"hi":0.45},
{"s":"III","m":"CFRP","t":150,"y":0.32,"lo":0.23,"hi":0.37},
{"s":"III","m":"GFRP","t":0,"y":0,"lo":-0.06,"hi":0.13},
{"s":"III","m":"GFRP","t":3,"y":0,"lo":-0.1,"hi":0.05},
{"s":"III","m":"GFRP","t":6,"y":0,"lo":-0.08,"hi":0.1},
{"s":"III","m":"GFRP","t":9,"y":0,"lo":-0.05,"hi":0.11},
{"s":"III","m":"GFRP","t":12,"y":0,"lo":-0.11,"hi":0.07},
{"s":"III","m":"GFRP","t":15,"y":0.01,"lo":-0.06,"hi":0.1},
{"s":"III","m":"GFRP","t":18,"y":0.02,"lo":-0.04,"hi":0.15},
{"s":"III","m":"GFRP","t":21,"y":0.04,"lo":-0.06,"hi":0.1},
{"s":"III","m":"GFRP","t":24,"y":0.07,"lo":0.02,"hi":0.18},
{"s":"III","m":"GFRP","t":27,"y":0.12,"lo":0,"hi":0.2},
{"s":"III","m":"GFRP","t":30,"y":0.17,"lo":0.1,"hi":0.29},
{"s":"III","m":"GFRP","t":33,"y":0.24,"lo":0.15,"hi":0.29},
{"s":"III","m":"GFRP","t":36,"y":0.31,"lo":0.24,"hi":0.39},
{"s":"III","m":"GFRP","t":39,"y":0.38,"lo":0.33,"hi":0.5},
{"s":"III","m":"GFRP","t":42,"y":0.45,"lo":0.34,"hi":0.51},
{"s":"III","m":"GFRP","t":45,"y":0.51,"lo":0.44,"hi":0.61},
{"s":"III","m":"GFRP","t":48,"y":0.56,"lo":0.44,"hi":0.63},
{"s":"III","m":"GFRP","t":51,"y":0.61,"lo":0.55,"hi":0.74},
{"s":"III","m":"GFRP","t":54,"y":0.64,"lo":0.54,"hi":0.69},
{"s":"III","m":"GFRP","t":57,"y":0.67,"lo":0.59,"hi":0.77},
{"s":"III","m":"GFRP","t":60,"y":0.68,"lo":0.63,"hi":0.79},
{"s":"III","m":"GFRP","t":63,"y":0.69,"lo":0.58,"hi":0.76},
{"s":"III","m":"GFRP","t":66,"y":0.69,"lo":0.62,"hi":0.78},
{"s":"III","m":"GFRP","t":69,"y":0.69,"lo":0.63,"hi":0.82},
{"s":"III","m":"GFRP","t":72,"y":0.68,"lo":0.58,"hi":0.74},
{"s":"III","m":"GFRP","t":75,"y":0.67,"lo":0.62,"hi":0.78},
{"s":"III","m":"GFRP","t":78,"y":0.65,"lo":0.53,"hi":0.73},
{"s":"III","m":"GFRP","t":81,"y":0.63,"lo":0.56,"hi":0.75},
{"s":"III","m":"GFRP","t":84,"y":0.62,"lo":0.53,"hi":0.67},
{"s":"III","m":"GFRP","t":87,"y":0.6,"lo":0.53,"hi":0.68},
{"s":"III","m":"GFRP","t":90,"y":0.58,"lo":0.53,"hi":0.7},
{"s":"III","m":"GFRP","t":93,"y":0.57,"lo":0.46,"hi":0.63},
{"s":"III","m":"GFRP","t":96,"y":0.55,"lo":0.48,"hi":0.65},
{"s":"III","m":"GFRP","t":99,"y":0.54,"lo":0.42,"hi":0.61},
{"s":"III","m":"GFRP","t":102,"y":0.52,"lo":0.46,"hi":0.65},
{"s":"III","m":"GFRP","t":105,"y":0.51,"lo":0.41,"hi":0.56},
{"s":"III","m":"GFRP","t":108,"y":0.49,"lo":0.41,"hi":0.59},
{"s":"III","m":"GFRP","t":111,"y":0.48,"lo":0.43,"hi":0.59},
{"s":"III","m":"GFRP","t":114,"y":0.47,"lo":0.36,"hi":0.54},
{"s":"III","m":"GFRP","t":117,"y":0.45,"lo":0.38,"hi":0.54},
{"s":"III","m":"GFRP","t":120,"y":0.44,"lo":0.38,"hi":0.57},
{"s":"III","m":"GFRP","t":123,"y":0.43,"lo":0.33,"hi":0.49},
{"s":"III","m":"GFRP","t":126,"y":0.41,"lo":0.36,"hi":0.52},
{"s":"III","m":"GFRP","t":129,"y":0.4,"lo":0.28,"hi":0.48},
{"s":"III","m":"GFRP","t":132,"y":0.39,"lo":0.32,"hi":0.51},
{"s":"III","m":"GFRP","t":135,"y":0.38,"lo":0.29,"hi":0.43},
{"s":"III","m":"GFRP","t":138,"y":0.37,"lo":0.3,"hi":0.45},
{"s":"III","m":"GFRP","t":141,"y":0.36,"lo":0.31,"hi":0.48},
{"s":"III","m":"GFRP","t":144,"y":0.35,"lo":0.24,"hi":0.41},
{"s":"III","m":"GFRP","t":147,"y":0.34,"lo":0.27,"hi":0.44},
{"s":"III","m":"GFRP","t":150,"y":0.34,"lo":0.22,"hi":0.41},
{"s":"III","m":"PLA","t":0,"y":0,"lo":-0.15,"hi":0.09},
{"s":"III","m":"PLA","t":3,"y":0,"lo":-0.12,"hi":0.13},
{"s":"III","m":"PLA","t":6,"y":0,"lo":-0.18,"hi":0.06},
{"s":"III","m":"PLA","t":9,"y":0,"lo":-0.14,"hi":0.11},
{"s":"III","m":"PLA","t":12,"y":0,"lo":-0.2,"hi":0.08},
{"s":"III","m":"PLA","t":15,"y":0.01,"lo":-0.3,"hi":0.13},
{"s":"III","m":"PLA","t":18,"y":0.01,"lo":-0.16,"hi":0.06},
{"s":"III","m":"PLA","t":21,"y":0.03,"lo":-0.04,"hi":0.11},
{"s":"III","m":"PLA","t":24,"y":0.05,"lo":0,"hi":0.17},
{"s":"III","m":"PLA","t":27,"y":0.08,"lo":-0.03,"hi":0.14},
{"s":"III","m":"PLA","t":30,"y":0.12,"lo":0.05,"hi":0.22},
{"s":"III","m":"PLA","t":33,"y":0.17,"lo":0.05,"hi":0.24},
{"s":"III","m":"PLA","t":36,"y":0.22,"lo":0.16,"hi":0.35},
{"s":"III","m":"PLA","t":39,"y":0.28,"lo":0.18,"hi":0.33},
{"s":"III","m":"PLA","t":42,"y":0.34,"lo":0.26,"hi":0.44},
{"s":"III","m":"PLA","t":45,"y":0.39,"lo":0.34,"hi":0.5},
{"s":"III","m":"PLA","t":48,"y":0.44,"lo":0.33,"hi":0.51},
{"s":"III","m":"PLA","t":51,"y":0.49,"lo":0.42,"hi":0.58},
{"s":"III","m":"PLA","t":54,"y":0.53,"lo":0.47,"hi":0.66},
{"s":"III","m":"PLA","t":57,"y":0.56,"lo":0.46,"hi":0.62},
{"s":"III","m":"PLA","t":60,"y":0.59,"lo":0.54,"hi":0.7},
{"s":"III","m":"PLA","t":63,"y":0.61,"lo":0.49,"hi":0.69},
{"s":"III","m":"PLA","t":66,"y":0.62,"lo":0.55,"hi":0.74},
{"s":"III","m":"PLA","t":69,"y":0.63,"lo":0.54,"hi":0.68},
{"s":"III","m":"PLA","t":72,"y":0.63,"lo":0.56,"hi":0.71},
{"s":"III","m":"PLA","t":75,"y":0.63,"lo":0.58,"hi":0.75},
{"s":"III","m":"PLA","t":78,"y":0.62,"lo":0.51,"hi":0.68},
{"s":"III","m":"PLA","t":81,"y":0.61,"lo":0.54,"hi":0.71},
{"s":"III","m":"PLA","t":84,"y":0.6,"lo":0.48,"hi":0.67},
{"s":"III","m":"PLA","t":87,"y":0.59,"lo":0.53,"hi":0.72},
{"s":"III","m":"PLA","t":90,"y":0.58,"lo":0.48,"hi":0.63},
{"s":"III","m":"PLA","t":93,"y":0.56,"lo":0.48,"hi":0.66},
{"s":"III","m":"PLA","t":96,"y":0.55,"lo":0.5,"hi":0.66},
{"s":"III","m":"PLA","t":99,"y":0.54,"lo":0.43,"hi":0.61},
{"s":"III","m":"PLA","t":102,"y":0.52,"lo":0.45,"hi":0.61},
{"s":"III","m":"PLA","t":105,"y":0.51,"lo":0.45,"hi":0.64},
{"s":"III","m":"PLA","t":108,"y":0.5,"lo":0.4,"hi":0.56},
{"s":"III","m":"PLA","t":111,"y":0.48,"lo":0.43,"hi":0.59},
{"s":"III","m":"PLA","t":114,"y":0.47,"lo":0.35,"hi":0.55},
{"s":"III","m":"PLA","t":117,"y":0.46,"lo":0.39,"hi":0.58},
{"s":"III","m":"PLA","t":120,"y":0.45,"lo":0.36,"hi":0.5},
{"s":"III","m":"PLA","t":123,"y":0.44,"lo":0.37,"hi":0.52},
{"s":"III","m":"PLA","t":126,"y":0.43,"lo":0.38,"hi":0.55},
{"s":"III","m":"PLA","t":129,"y":0.42,"lo":0.31,"hi":0.48},
{"s":"III","m":"PLA","t":132,"y":0.41,"lo":0.34,"hi":0.51},
{"s":"III","m":"PLA","t":135,"y":0.4,"lo":0.28,"hi":0.47},
{"s":"III","m":"PLA","t":138,"y":0.39,"lo":0.33,"hi":0.52},
{"s":"III","m":"PLA","t":141,"y":0.38,"lo":0.28,"hi":0.43},
{"s":"III","m":"PLA","t":144,"y":0.37,"lo":0.29,"hi":0.47},
{"s":"III","m":"PLA","t":147,"y":0.36,"lo":0.31,"hi":0.47},
{"s":"III","m":"PLA","t":150,"y":0.35,"lo":0.24,"hi":0.42},
{"s":"III","m":"KFRP","t":0,"y":0,"lo":-0.07,"hi":0.1},
{"s":"III","m":"KFRP","t":3,"y":0,"lo":-0.12,"hi":0.07},
{"s":"III","m":"KFRP","t":6,"y":0,"lo":-0.06,"hi":0.13},
{"s":"III","m":"KFRP","t":9,"y":0,"lo":-0.1,"hi":0.05},
{"s":"III","m":"KFRP","t":12,"y":0,"lo":-0.08,"hi":0.1},
{"s":"III","m":"KFRP","t":15,"y":0,"lo":-0.05,"hi":0.11},
{"s":"III","m":"KFRP","t":18,"y":0.01,"lo":-0.1,"hi":0.08},
{"s":"III","m":"KFRP","t":21,"y":0.02,"lo":-0.05,"hi":0.11},
{"s":"III","m":"KFRP","t":24,"y":0.03,"lo":-0.03,"hi":0.16},
{"s":"III","m":"KFRP","t":27,"y":0.05,"lo":-0.05,"hi":0.11},
{"s":"III","m":"KFRP","t":30,"y":0.08,"lo":0.03,"hi":0.19},
{"s":"III","m":"KFRP","t":33,"y":0.11,"lo":-0.01,"hi":0.19},
{"s":"III","m":"KFRP","t":36,"y":0.15,"lo":0.08,"hi":0.27},
{"s":"III","m":"KFRP","t":39,"y":0.2,"lo":0.11,"hi":0.25},
{"s":"III","m":"KFRP","t":42,"y":0.24,"lo":0.17,"hi":0.32},
{"s":"III","m":"KFRP","t":45,"y":0.29,"lo":0.24,"hi":0.41},
{"s":"III","m":"KFRP","t":48,"y":0.34,"lo":0.23,"hi":0.4},
{"s":"III","m":"KFRP","t":51,"y":0.38,"lo":0.31,"hi":0.48},
{"s":"III","m":"KFRP","t":54,"y":0.43,"lo":0.31,"hi":0.5},
{"s":"III","m":"KFRP","t":57,"y":0.46,"lo":0.4,"hi":0.59},
{"s":"III","m":"KFRP","t":60,"y":0.5,"lo":0.4,"hi":0.55},
{"s":"III","m":"KFRP","t":63,"y":0.53,"lo":0.45,"hi":0.63},
{"s":"III","m":"KFRP","t":66,"y":0.55,"lo":0.5,"hi":0.66},
{"s":"III","m":"KFRP","t":69,"y":0.57,"lo":0.46,"hi":0.64},
{"s":"III","m":"KFRP","t":72,"y":0.58,"lo":0.51,"hi":0.67},
{"s":"III","m":"KFRP","t":75,"y":0.59,"lo":0.53,"hi":0.72},
{"s":"III","m":"KFRP","t":78,"y":0.59,"lo":0.49,"hi":0.65},
{"s":"III","m":"KFRP","t":81,"y":0.59,"lo":0.54,"hi":0.7},
{"s":"III","m":"KFRP","t":84,"y":0.59,"lo":0.47,"hi":0.67},
{"s":"III","m":"KFRP","t":87,"y":0.58,"lo":0.51,"hi":0.7},
{"s":"III","m":"KFRP","t":90,"y":0.58,"lo":0.49,"hi":0.63},
{"s":"III","m":"KFRP","t":93,"y":0.57,"lo":0.5,"hi":0.65},
{"s":"III","m":"KFRP","t":96,"y":0.56,"lo":0.51,"hi":0.68},
{"s":"III","m":"KFRP","t":99,"y":0.55,"lo":0.44,"hi":0.61},
{"s":"III","m":"KFRP","t":102,"y":0.54,"lo":0.47,"hi":0.64},
{"s":"III","m":"KFRP","t":105,"y":0.53,"lo":0.41,"hi":0.6},
{"s":"III","m":"KFRP","t":108,"y":0.52,"lo":0.46,"hi":0.65},
{"s":"III","m":"KFRP","t":111,"y":0.51,"lo":0.41,"hi":0.56},
{"s":"III","m":"KFRP","t":114,"y":0.5,"lo":0.42,"hi":0.6},
{"s":"III","m":"KFRP","t":117,"y":0.49,"lo":0.44,"hi":0.6},
{"s":"III","m":"KFRP","t":120,"y":0.48,"lo":0.37,"hi":0.55},
{"s":"III","m":"KFRP","t":123,"y":0.47,"lo":0.4,"hi":0.56},
{"s":"III","m":"KFRP","t":126,"y":0.46,"lo":0.4,"hi":0.59},
{"s":"III","m":"KFRP","t":129,"y":0.45,"lo":0.35,"hi":0.51},
{"s":"III","m":"KFRP","t":132,"y":0.44,"lo":0.39,"hi":0.55},
{"s":"III","m":"KFRP","t":135,"y":0.43,"lo":0.31,"hi":0.51},
{"s":"III","m":"KFRP","t":138,"y":0.42,"lo":0.35,"hi":0.54},
{"s":"III","m":"KFRP","t":141,"y":0.41,"lo":0.32,"hi":0.46},
{"s":"III","m":"KFRP","t":144,"y":0.41,"lo":0.34,"hi":0.49},
{"s":"III","m":"KFRP","t":147,"y":0.4,"lo":0.35,"hi":0.52},
{"s":"III","m":"KFRP","t":150,"y":0.39,"lo":0.28,"hi":0.45}
]},
"data": {"name": "d"},
"spacing": 42,
"resolve": {"scale": {"fill": "independent", "stroke": "independent"}},
"vconcat": [
{
 "width": 404, "height": 236,
 "title": {"text": "Reflection Mode | Def. Type I", "frame": "group", "offset": 14},
 "transform": [{"filter": "datum.s === 'I'"}],
 "resolve": {"scale": {"x": "independent", "y": "independent"}},
 "layer": [
  {
   "mark": {"type": "area", "opacity": 0.32},
   "encoding": {
    "x": {"field": "t", "type": "quantitative", "scale": {"domain": [0, 150], "nice": false}, "axis": {"orient": "top", "labels": false, "title": null, "values": [0, 25, 50, 75, 100, 125, 150], "tickSize": -5}},
    "y": {"field": "lo", "type": "quantitative", "scale": {"domain": [-0.5, 3.5], "nice": false}, "axis": {"orient": "right", "labels": false, "title": null, "values": [-0.5, 0, 0.5, 1, 1.5, 2, 2.5, 3, 3.5], "tickSize": -5}},
    "y2": {"field": "hi"},
    "fill": {"field": "m", "type": "nominal", "scale": {"domain": ["CFRP", "GFRP", "PLA", "KFRP", "Exp"], "range": ["#f4a09a", "#86b4e0", "#6cbf98", "#d3b0de", "#cccccc"]},
     "legend": {"values": ["CFRP", "GFRP", "PLA", "KFRP"], "orient": "none", "legendX": 410, "legendY": 124, "title": null, "symbolType": "M-1,-0.4H1V0.4H-1Z", "symbolSize": 600, "symbolStrokeColor": "#222", "symbolStrokeWidth": 1, "labelExpr": "datum.label + ' (Exp.)'", "labelOffset": 5}}
   }
  },
  {
   "mark": {"type": "line", "strokeWidth": 1.8, "interpolate": "monotone"},
   "encoding": {
    "x": {"field": "t", "type": "quantitative", "scale": {"domain": [0, 150], "nice": false}, "axis": {"title": ["Time [s]", "(a)"], "titleLineHeight": 30, "values": [0, 25, 50, 75, 100, 125, 150], "tickSize": -5}},
    "y": {"field": "y", "type": "quantitative", "scale": {"domain": [-0.5, 3.5], "nice": false}, "axis": {"title": "Thermal Contrast [°C]", "values": [-0.5, 0, 0.5, 1, 1.5, 2, 2.5, 3, 3.5], "format": ".1~f", "tickSize": -5}},
    "stroke": {"field": "m", "type": "nominal", "scale": {"domain": ["CFRP", "GFRP", "PLA", "KFRP"], "range": ["#b00000", "#1a2aa8", "#1a9a1a", "#b04ed8"]},
     "legend": {"orient": "none", "legendX": 410, "legendY": 17, "title": null, "symbolType": "stroke", "symbolSize": 600, "symbolStrokeWidth": 2, "symbolOpacity": 1, "labelExpr": "datum.label + ' (Num.)'", "labelOffset": 5}}
   }
  }
 ]
},
{
 "width": 404, "height": 235,
 "title": {"text": "Reflection Mode | Def. Type II", "frame": "group", "offset": 10},
 "transform": [{"filter": "datum.s === 'II'"}],
 "resolve": {"scale": {"x": "independent", "y": "independent"}},
 "layer": [
  {
   "mark": {"type": "area", "opacity": 0.32},
   "encoding": {
    "x": {"field": "t", "type": "quantitative", "scale": {"domain": [0, 150], "nice": false}, "axis": {"orient": "top", "labels": false, "title": null, "values": [0, 25, 50, 75, 100, 125, 150], "tickSize": -5}},
    "y": {"field": "lo", "type": "quantitative", "scale": {"domain": [-0.5, 3.5], "nice": false}, "axis": {"orient": "right", "labels": false, "title": null, "values": [-0.5, 0, 0.5, 1, 1.5, 2, 2.5, 3, 3.5], "tickSize": -5}},
    "y2": {"field": "hi"},
    "fill": {"field": "m", "type": "nominal", "scale": {"domain": ["CFRP", "GFRP", "PLA", "KFRP", "Exp"], "range": ["#f4a09a", "#86b4e0", "#6cbf98", "#d3b0de", "#cccccc"]},
     "legend": {"values": ["CFRP", "GFRP", "PLA", "KFRP"], "orient": "none", "legendX": 410, "legendY": 128, "title": null, "symbolType": "M-1,-0.4H1V0.4H-1Z", "symbolSize": 600, "symbolStrokeColor": "#222", "symbolStrokeWidth": 1, "labelExpr": "datum.label + ' (Exp.)'", "labelOffset": 5}}
   }
  },
  {
   "mark": {"type": "line", "strokeWidth": 1.8, "interpolate": "monotone"},
   "encoding": {
    "x": {"field": "t", "type": "quantitative", "scale": {"domain": [0, 150], "nice": false}, "axis": {"title": ["Time [s]", "(b)"], "titleLineHeight": 30, "values": [0, 25, 50, 75, 100, 125, 150], "tickSize": -5}},
    "y": {"field": "y", "type": "quantitative", "scale": {"domain": [-0.5, 3.5], "nice": false}, "axis": {"title": "Thermal Contrast [°C]", "values": [-0.5, 0, 0.5, 1, 1.5, 2, 2.5, 3, 3.5], "format": ".1~f", "tickSize": -5}},
    "stroke": {"field": "m", "type": "nominal", "scale": {"domain": ["CFRP", "GFRP", "PLA", "KFRP"], "range": ["#b00000", "#1a2aa8", "#1a9a1a", "#b04ed8"]},
     "legend": {"orient": "none", "legendX": 410, "legendY": 18, "title": null, "symbolType": "stroke", "symbolSize": 600, "symbolStrokeWidth": 2, "symbolOpacity": 1, "labelExpr": "datum.label + ' (Num.)'", "labelOffset": 5}}
   }
  }
 ]
},
{
 "width": 404, "height": 258,
 "title": {"text": "Reflection Mode | Def. Type III", "frame": "group", "offset": 10},
 "transform": [{"filter": "datum.s === 'III'"}],
 "resolve": {"scale": {"x": "independent", "y": "independent"}},
 "layer": [
  {
   "mark": {"type": "area", "opacity": 0.32},
   "encoding": {
    "x": {"field": "t", "type": "quantitative", "scale": {"domain": [0, 150], "nice": false}, "axis": {"orient": "top", "labels": false, "title": null, "values": [0, 25, 50, 75, 100, 125, 150], "tickSize": -5}},
    "y": {"field": "lo", "type": "quantitative", "scale": {"domain": [-0.5, 3.5], "nice": false}, "axis": {"orient": "right", "labels": false, "title": null, "values": [-0.5, 0, 0.5, 1, 1.5, 2, 2.5, 3, 3.5], "tickSize": -5}},
    "y2": {"field": "hi"},
    "fill": {"field": "m", "type": "nominal", "scale": {"domain": ["CFRP", "GFRP", "PLA", "KFRP", "Exp"], "range": ["#f4a09a", "#86b4e0", "#6cbf98", "#d3b0de", "#cccccc"]},
     "legend": {"values": ["CFRP", "GFRP", "PLA", "KFRP"], "orient": "none", "legendX": 410, "legendY": 143, "title": null, "symbolType": "M-1,-0.4H1V0.4H-1Z", "symbolSize": 600, "symbolStrokeColor": "#222", "symbolStrokeWidth": 1, "labelExpr": "datum.label + ' (Exp.)'", "labelOffset": 5}}
   }
  },
  {
   "mark": {"type": "line", "strokeWidth": 1.8, "interpolate": "monotone"},
   "encoding": {
    "x": {"field": "t", "type": "quantitative", "scale": {"domain": [0, 150], "nice": false}, "axis": {"title": ["Time [s]", "(c)"], "titleLineHeight": 30, "values": [0, 25, 50, 75, 100, 125, 150], "tickSize": -5}},
    "y": {"field": "y", "type": "quantitative", "scale": {"domain": [-0.5, 3.5], "nice": false}, "axis": {"title": "Thermal Contrast [°C]", "values": [-0.5, 0, 0.5, 1, 1.5, 2, 2.5, 3, 3.5], "format": ".1~f", "tickSize": -5}},
    "stroke": {"field": "m", "type": "nominal", "scale": {"domain": ["CFRP", "GFRP", "PLA", "KFRP"], "range": ["#b00000", "#1a2aa8", "#1a9a1a", "#b04ed8"]},
     "legend": {"orient": "none", "legendX": 410, "legendY": 34, "title": null, "symbolType": "stroke", "symbolSize": 600, "symbolStrokeWidth": 2, "symbolOpacity": 1, "labelExpr": "datum.label + ' (Num.)'", "labelOffset": 5}}
   }
  }
 ]
}
]
}
